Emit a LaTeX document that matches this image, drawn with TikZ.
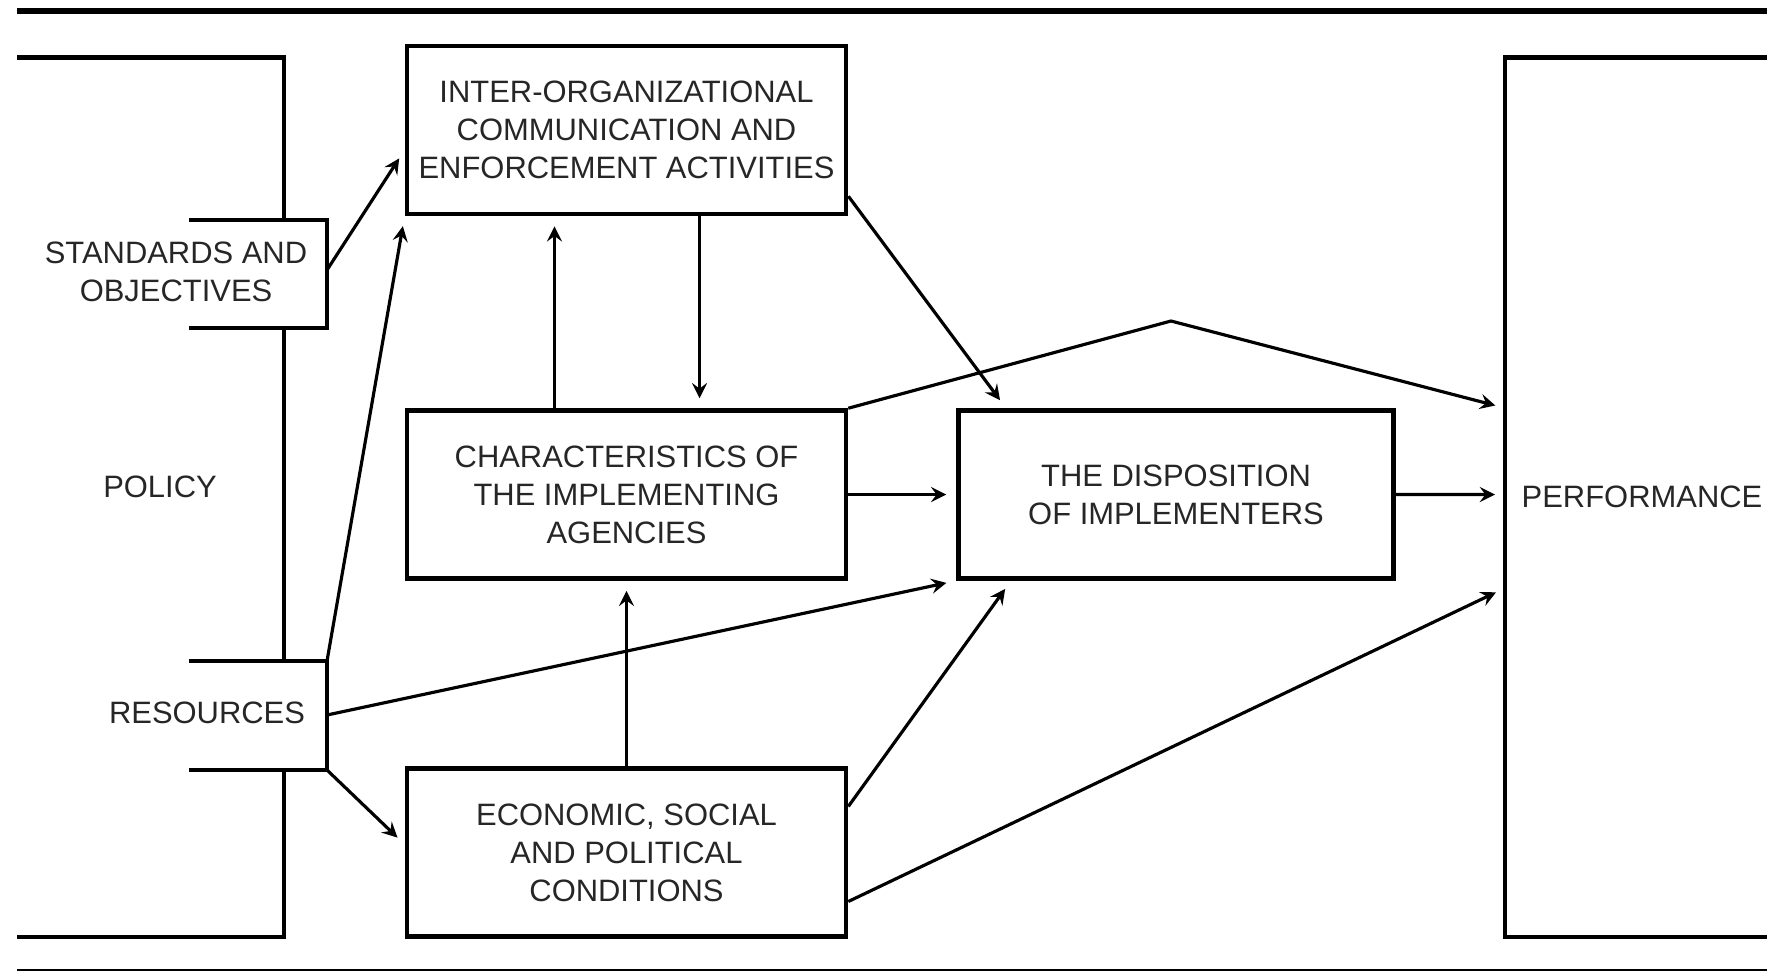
\documentclass[tikz,border=0pt]{standalone}
\usepackage{fontspec}
\setmainfont{Liberation Sans}
\usetikzlibrary{positioning}
\tikzstyle{box}=[draw,line width=1.3pt,minimum width=4.39cm,minimum height=1.68cm,
  align=center,text=black!85,font=\fontsize{8.8}{10.8}\selectfont]
\tikzstyle{flow}=[->,line width=0.9pt,shorten >=1mm]
\tikzstyle{frame}=[line width=1.3pt]

\begin{document}
\begin{tikzpicture}[>=stealth, node distance=3.645cm, on grid]
  \tikzstyle{lbl}=[align=center,text=black!85,font=\fontsize{8.8}{10.8}\selectfont]
  \useasboundingbox (0,0) rectangle (17.67,-9.72);

  % rules
  \draw[line width=1.7pt] (0.17,-0.11) -- (17.8,-0.11);
  \draw[line width=0.5pt] (0.17,-9.70) -- (17.8,-9.70);

  % boxes
  \node[box] (inter) at (6.265,-1.30) {INTER-ORGANIZATIONAL\\COMMUNICATION AND\\ENFORCEMENT ACTIVITIES};
  \node[box, below=of inter] (char) {CHARACTERISTICS OF\\THE IMPLEMENTING\\AGENCIES};
  \node[box, below=3.58cm of char] (econ) {ECONOMIC, SOCIAL\\AND POLITICAL\\CONDITIONS};
  \node[box, right=5.495cm of char, minimum width=4.35cm] (disp) {THE DISPOSITION\\OF IMPLEMENTERS};

  % policy side
  \draw[frame] (0.17,-0.575) -| (2.84,-2.20);
  \draw[frame] (1.89,-2.20) -| (3.27,-3.28) -- (1.89,-3.28);
  \draw[frame] (2.84,-3.28) -- (2.84,-6.61);
  \draw[frame] (1.89,-6.61) -| (3.27,-7.70) -- (1.89,-7.70);
  \draw[frame] (2.84,-7.70) |- (0.17,-9.37);
  \node[lbl] (std) at (1.76,-2.72) {STANDARDS AND\\OBJECTIVES};
  \node[lbl] (policy) at (1.60,-4.87) {POLICY};
  \node[lbl] (res) at (2.07,-7.13) {RESOURCES};
  \coordinate (stdout) at (3.27,-2.70);
  \coordinate (restop) at (3.27,-6.61);
  \coordinate (resmid) at (3.27,-7.15);
  \coordinate (resbot) at (3.27,-7.70);

  % performance side
  \draw[frame] (17.8,-0.575) -| (15.05,-9.37) -- (17.8,-9.37);
  \node[lbl] (perf) at (16.42,-4.97) {PERFORMANCE};
  \coordinate (pin1) at (15.05,-4.08);
  \coordinate (pin2) at (15.05,-4.945);
  \coordinate (pin3) at (15.05,-5.88);
  \coordinate (peak) at (11.71,-3.21);

  % links
  \draw[flow] (stdout) -- ([yshift=-2mm]inter.west);
  \draw[flow] (restop) -- (inter.south west);
  \draw[flow] (resmid) -- (disp.south west);
  \draw[flow] (resbot) -- ([yshift=0.8mm]econ.west);
  \draw[flow] ([xshift=-7.2mm]char.north) -- ([xshift=-7.2mm]inter.south);
  \draw[flow] ([xshift=7.3mm]inter.south) -- ([xshift=7.3mm]char.north);
  \draw[flow] ([yshift=2mm]inter.south east) -- ([xshift=-17mm]disp.north);
  \draw[flow] (char.north east) -- (peak) -- (pin1);
  \draw[flow] (char) -- (disp);
  \draw[flow] (disp) -- (pin2);
  \draw[flow] (econ) -- (char);
  \draw[flow] ([yshift=4.6mm]econ.east) -- ([xshift=-16.5mm]disp.south);
  \draw[flow] ([yshift=-4.9mm]econ.east) -- (pin3);
\end{tikzpicture}
\end{document}
